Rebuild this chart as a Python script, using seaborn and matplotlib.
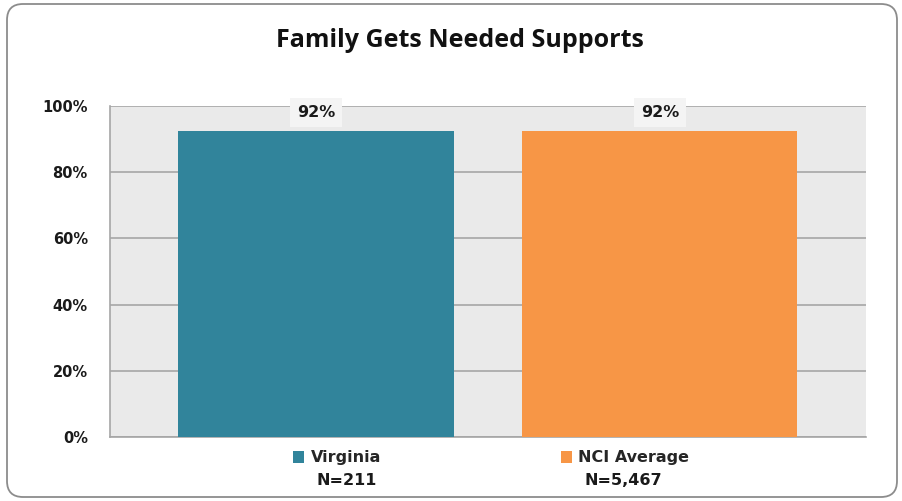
import matplotlib
matplotlib.use("Agg")
import matplotlib.pyplot as plt
from matplotlib.patches import FancyBboxPatch
from matplotlib.ticker import PercentFormatter
import pandas as pd
import seaborn as sns

# data
groups = ["Virginia", "NCI Average"]
sizes = ["N=211", "N=5,467"]
pct = [92.4, 92.4]
colors = ["#31849B", "#F79646"]

df = pd.DataFrame({"group": groups, "pct": pct})

sns.set_style("white")
plt.rcParams["font.family"] = ["DejaVu Sans"]

fig = plt.figure(figsize=(9.02, 5.01), dpi=100)
ax = fig.add_axes([0.122, 0.128, 0.838, 0.660])

# rounded outer frame
frame = FancyBboxPatch((0.07, 0.04), 8.90, 4.93, boxstyle="round,pad=0,rounding_size=0.16",
                       transform=fig.dpi_scale_trans, facecolor="none",
                       edgecolor="#8c8c8c", linewidth=1.3, zorder=-5)
fig.patches.append(frame)

sns.barplot(data=df, x="group", y="pct", hue="group", palette=colors,
            width=0.8, saturation=1, legend=True, linewidth=0, ax=ax, zorder=3)

ax.set_facecolor("#EAEAEA")
ax.set_ylim(0, 100)
ax.set_xlim(-0.599, 1.599)
ax.set_yticks(range(0, 101, 20))
ax.yaxis.set_major_formatter(PercentFormatter(decimals=0))
ax.grid(axis="y", color="#A6A6A6", linewidth=1.2, zorder=0)
ax.set_axisbelow(True)
ax.set_xticks([])
ax.set_xlabel("")
ax.set_ylabel("")
for s in ["top", "right"]:
    ax.spines[s].set_visible(False)
ax.spines["left"].set_color("#A6A6A6")
ax.spines["bottom"].set_color("#A6A6A6")
ax.spines["left"].set_linewidth(1.2)
ax.spines["bottom"].set_linewidth(1.2)
ax.tick_params(axis="y", length=6, width=1.2, color="#A6A6A6", pad=10,
               labelsize=10.5, labelcolor="#1a1a1a")
for t in ax.get_yticklabels():
    t.set_fontweight("bold")

for c in ax.containers:
    ax.bar_label(c, fmt="%.0f%%", padding=8, fontsize=11.5, fontweight="bold",
                 color="#1a1a1a",
                 bbox=dict(facecolor="#F4F4F4", edgecolor="none", pad=5))

fig.text(0.51, 0.906, "Family Gets Needed Supports", ha="center", va="baseline",
         fontsize=18, fontweight="bold", family=["Open Sans", "DejaVu Sans"],
         color="#111111")

handles, labels = ax.get_legend_handles_labels()
leg = ax.legend(handles, labels, loc="upper center", bbox_to_anchor=(0.504, -0.041),
                ncol=2, frameon=False, handlelength=0.72, handleheight=0.72,
                handletextpad=0.4, columnspacing=11.25, borderpad=0, borderaxespad=0,
                prop={"size": 11.5, "weight": "bold"})

# sample sizes under each legend entry
fig.canvas.draw()
W, H = fig.bbox.width, fig.bbox.height
for t, n in zip(leg.get_texts(), sizes):
    bb = t.get_window_extent()
    fig.text((bb.x0 + 6) / W, (bb.y0 - 8) / H, n, ha="left", va="top",
             fontsize=11.5, fontweight="bold", color="#1a1a1a")

fig.savefig("out.png", dpi=100)
